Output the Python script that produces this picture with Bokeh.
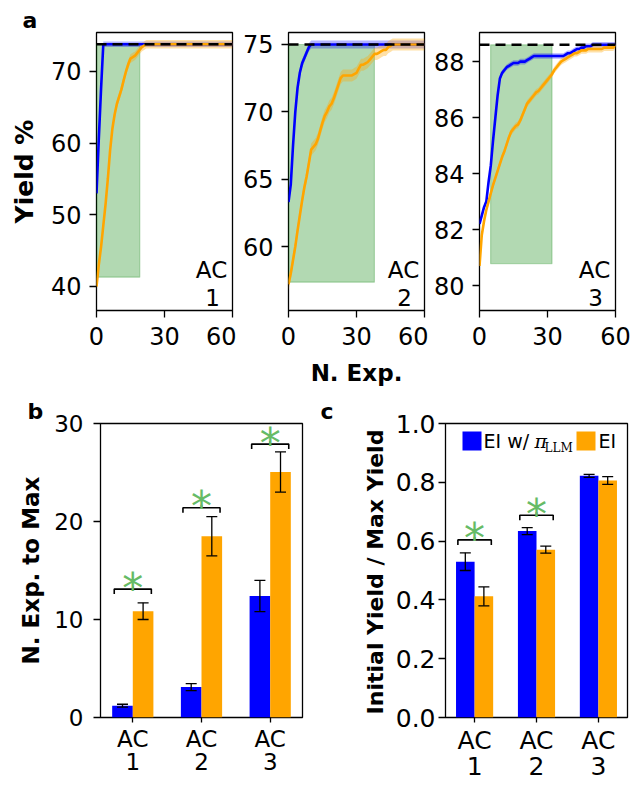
import math
import numpy as np
from bokeh.plotting import figure
from bokeh.layouts import row, column
from bokeh.models import (ColumnDataSource, Whisker, TeeHead, Label, BoxAnnotation,
                          FixedTicker, Span)
from bokeh.core.properties import value
from bokeh.embed import file_html
from bokeh.resources import INLINE

# ------------------------------------------------------------------ data
n_exp = list(range(61))

ac1_llm = [53.0, 60.5, 67.5, 73.8, 73.8, 73.8, 73.8, 73.8, 73.8, 73.8,
           73.8, 73.8, 73.8, 73.8, 73.8, 73.8, 73.8, 73.8, 73.8, 73.8,
           73.8, 73.8, 73.8, 73.8, 73.8, 73.8, 73.8, 73.8, 73.8, 73.8,
           73.8, 73.8, 73.8, 73.8, 73.8, 73.8, 73.8, 73.8, 73.8, 73.8,
           73.8, 73.8, 73.8, 73.8, 73.8, 73.8, 73.8, 73.8, 73.8, 73.8,
           73.8, 73.8, 73.8, 73.8, 73.8, 73.8, 73.8, 73.8, 73.8, 73.8, 73.8]
ac1_ei = [40.0, 43.0, 45.5, 48.5, 51.5, 55.0, 59.0, 62.0, 64.0, 65.5,
          66.5, 67.5, 68.8, 70.0, 71.0, 71.8, 72.0, 72.2, 72.6, 73.0,
          73.4, 73.6, 73.8, 73.8, 73.8, 73.8, 73.8, 73.8, 73.8, 73.8,
          73.8, 73.8, 73.8, 73.8, 73.8, 73.8, 73.8, 73.8, 73.8, 73.8,
          73.8, 73.8, 73.8, 73.8, 73.8, 73.8, 73.8, 73.8, 73.8, 73.8,
          73.8, 73.8, 73.8, 73.8, 73.8, 73.8, 73.8, 73.8, 73.8, 73.8, 73.8]

ac2_llm = [63.3, 64.6, 67.5, 70.0, 71.8, 72.9, 73.6, 74.0, 74.4, 74.8,
           75.0, 75.0, 75.0, 75.0, 75.0, 75.0, 75.0, 75.0, 75.0, 75.0,
           75.0, 75.0, 75.0, 75.0, 75.0, 75.0, 75.0, 75.0, 75.0, 75.0,
           75.0, 75.0, 75.0, 75.0, 75.0, 75.0, 75.0, 75.0, 75.0, 75.0,
           75.0, 75.0, 75.0, 75.0, 75.0, 75.0, 75.0, 75.0, 75.0, 75.0,
           75.0, 75.0, 75.0, 75.0, 75.0, 75.0, 75.0, 75.0, 75.0, 75.0, 75.0]
ac2_ei = [57.2, 58.0, 59.0, 60.0, 61.2, 62.3, 63.4, 64.4, 65.2, 66.2,
          67.2, 67.4, 67.6, 68.0, 68.6, 69.2, 69.7, 70.0, 70.4, 70.6,
          71.0, 71.5, 72.0, 72.5, 72.7, 72.7, 72.7, 72.7, 72.7, 72.8,
          72.9, 73.2, 73.5, 73.5, 73.6, 73.7, 73.9, 74.1, 74.3, 74.3,
          74.4, 74.5, 74.6, 74.6, 74.8, 74.9, 75.0, 75.0, 75.0, 75.0,
          75.0, 75.0, 75.0, 75.0, 75.0, 75.0, 75.0, 75.0, 75.0, 75.0, 75.0]

ac3_llm = [82.2, 82.5, 82.8, 83.0, 83.7, 84.3, 85.2, 86.0, 86.8, 87.4,
           87.6, 87.7, 87.8, 87.85, 87.9, 87.95, 87.95, 87.95, 88.0, 88.0,
           88.0, 88.05, 88.1, 88.15, 88.2, 88.2, 88.2, 88.2, 88.2, 88.2,
           88.2, 88.2, 88.2, 88.2, 88.2, 88.2, 88.2, 88.2, 88.25, 88.3,
           88.3, 88.35, 88.4, 88.45, 88.45, 88.5, 88.5, 88.55, 88.55, 88.55,
           88.6, 88.6, 88.6, 88.6, 88.6, 88.6, 88.6, 88.6, 88.6, 88.6, 88.6]
ac3_ei = [80.7, 81.8, 82.3, 82.7, 83.0, 83.3, 83.6, 83.85, 84.1, 84.35,
          84.6, 84.8, 85.05, 85.3, 85.5, 85.6, 85.7, 85.75, 85.9, 86.1,
          86.3, 86.5, 86.6, 86.7, 86.8, 86.9, 86.95, 87.05, 87.15, 87.25,
          87.35, 87.45, 87.55, 87.7, 87.8, 87.9, 88.0, 88.05, 88.1, 88.15,
          88.2, 88.25, 88.3, 88.3, 88.35, 88.4, 88.4, 88.4, 88.45, 88.45,
          88.45, 88.45, 88.45, 88.45, 88.45, 88.5, 88.5, 88.5, 88.5, 88.5, 88.6]

curves_llm = [ac1_llm, ac2_llm, ac3_llm]
curves_ei = [ac1_ei, ac2_ei, ac3_ei]
band_llm = [0.4, 0.3, 0.1]          # half-width of shaded spread
band_ei = [0.6, 0.45, 0.12]
max_yield = [73.8, 75.0, 88.6]
region_left = [0.0, 0.0, 4.9]
region_right = [19.1, 37.9, 32.0]
region_bottom = [41.3, 57.35, 80.78]
region_top = [73.8, 75.0, 88.6]
a_ylims = [(36.65, 75.44), (55.25, 75.89), (79.11, 89.04)]
a_yticks = [[40, 50, 60, 70], [60, 65, 70, 75], [80, 82, 84, 86, 88]]
x_ticks_a = [0, 30, 60]
ac_digits = ["1", "2", "3"]

ac_pos = [0, 1, 2]
ac_labels = ["AC\n1", "AC\n2", "AC\n3"]
nexp_llm = [1.2, 3.1, 12.4]
nexp_llm_err = [0.15, 0.35, 1.6]
nexp_ei = [10.85, 18.5, 25.05]
nexp_ei_err = [0.85, 2.0, 2.05]
nexp_sig_pos = [0, 1, 2]
nexp_sig_y = [13.1, 21.4, 27.9]

init_llm = [0.53, 0.634, 0.822]
init_llm_err = [0.03, 0.012, 0.005]
init_ei = [0.412, 0.571, 0.806]
init_ei_err = [0.032, 0.012, 0.013]
init_sig_pos = [0, 1]
init_sig_y = [0.604, 0.688]

b_yticks = [0, 10, 20, 30]
c_yticks = [0.0, 0.2, 0.4, 0.6, 0.8, 1.0]
c_yticklabels = ["0.0", "0.2", "0.4", "0.6", "0.8", "1.0"]

# ------------------------------------------------------------------ style
FONT = "DejaVu Sans"
BLUE = "#0000ff"
ORANGE = "#ffa500"
GREEN = "#008000"
STAR = "#66bb66"
BASE_SHIFT = 0.35   # empirical em fraction between requested and drawn baseline


def mapper(frame, xr, yr):
    fx0, fx1, fy0, fy1 = frame

    def fx(px):
        return xr[0] + (px - fx0) / (fx1 - fx0) * (xr[1] - xr[0])

    def fy(py):
        return yr[1] - (py - fy0) / (fy1 - fy0) * (yr[1] - yr[0])
    return fx, fy


def style(p, tick_fs):
    p.outline_line_color = "black"
    p.outline_line_width = 1.3
    p.outline_line_alpha = 1.0
    p.xgrid.visible = False
    p.ygrid.visible = False
    p.background_fill_color = "white"
    p.border_fill_color = "white"
    for ax in (p.xaxis[0], p.yaxis[0]):
        ax.axis_line_color = None
        ax.major_tick_line_color = "black"
        ax.major_tick_line_width = 1.3
        ax.major_tick_out = 7
        ax.major_tick_in = 0
        ax.minor_tick_line_color = None
        ax.major_label_text_font = FONT
        ax.major_label_text_font_size = tick_fs
        ax.major_label_text_color = "black"
        ax.axis_label_text_font = FONT
        ax.axis_label_text_font_style = "bold"
        ax.axis_label_text_color = "black"


def letter(p, text, offset):
    p.title.text = text
    p.title.align = "left"
    p.title.offset = offset
    p.title.standoff = 0
    p.title.text_font = FONT
    p.title.text_font_size = "22px"
    p.title.text_font_style = "bold"
    p.title.text_color = "black"


def add_label(p, fx, fy, px, py, text, fs, align="center", italic=False, font=FONT):
    # (px, py): wanted page position of the text baseline
    p.add_layout(Label(x=fx(px), y=fy(py - BASE_SHIFT * fs), text=text, text_font=font,
                       text_font_size=f"{fs}px", text_align=align,
                       text_baseline="alphabetic",
                       text_font_style="italic" if italic else "normal",
                       text_color="black"))


def spacer(x0, width, height, fy0, fy1, top):
    """Blank strip that carries texts left of a frame; its frame lines up with the row's
    frames (fy0..fy1), and data units equal page pixels."""
    s = figure(width=width, height=height, x_range=(x0, x0 + width),
               y_range=(fy1, fy0), x_axis_type=None, y_axis_type=None,
               min_border_left=0, min_border_right=0, min_border_top=top,
               min_border_bottom=0, output_backend="svg", toolbar_location=None)
    s.outline_line_color = None
    s.background_fill_color = "white"
    s.border_fill_color = "white"
    return s


def vlabel(s, x_base, y_center, text, fs):
    # rotated bold label; x_base = wanted page x of its baseline
    s.add_layout(Label(x=x_base - BASE_SHIFT * fs, y=y_center, text=text,
                       angle=math.pi / 2, text_font=FONT, text_font_size=f"{fs}px",
                       text_font_style="bold", text_align="center",
                       text_baseline="alphabetic", text_color="black"))


# ------------------------------------------------------------------ top row (a)
TOP_Y0, TOP_Y1 = 32, 310
TOP_H = 395
SP_A = 44
a_frames_x = [(96, 232), (288, 424), (479, 615)]
a_widths = [236 - SP_A, 192, 204]
a_left = [96 - SP_A, 52, 51]
a_right = [4, 4, 17]

sa = spacer(0, SP_A, TOP_H, TOP_Y0, TOP_Y1, TOP_Y0)
letter(sa, "a", 22)
vlabel(sa, 33, (TOP_Y0 + TOP_Y1) / 2, "Yield %", 25)

top_figs = []
for i in range(3):
    p = figure(width=a_widths[i], height=TOP_H, x_range=(0, 60), y_range=a_ylims[i],
               min_border_left=a_left[i], min_border_right=a_right[i],
               min_border_top=TOP_Y0, min_border_bottom=TOP_H - TOP_Y1,
               output_backend="svg", toolbar_location=None)
    style(p, "24px")
    p.xaxis.ticker = FixedTicker(ticks=x_ticks_a)
    p.yaxis.ticker = FixedTicker(ticks=a_yticks[i])
    p.xaxis.major_label_standoff = 9
    p.yaxis.major_label_standoff = 8

    p.quad(left=[region_left[i]], right=[region_right[i]], bottom=[region_bottom[i]],
           top=[region_top[i]], fill_color=GREEN, fill_alpha=0.3,
           line_color=GREEN, line_alpha=0.25, line_width=1.2)

    yl = np.array(curves_llm[i])
    ye = np.array(curves_ei[i])
    p.varea(x=n_exp, y1=yl - band_llm[i], y2=yl + band_llm[i], fill_color=BLUE, fill_alpha=0.3)
    p.varea(x=n_exp, y1=ye - band_ei[i], y2=ye + band_ei[i], fill_color=ORANGE, fill_alpha=0.35)
    p.line(n_exp, curves_llm[i], line_color=BLUE, line_width=2.6)
    p.line(n_exp, curves_ei[i], line_color=ORANGE, line_width=2.6)
    p.add_layout(Span(location=max_yield[i], dimension="width", line_color="black",
                      line_width=2.4, line_dash="10 6"))

    fx, fy = mapper((a_frames_x[i][0], a_frames_x[i][1], TOP_Y0, TOP_Y1), (0, 60), a_ylims[i])
    xr = a_frames_x[i][1]
    add_label(p, fx, fy, xr - 21, 278, "AC", 23)
    add_label(p, fx, fy, xr - 20, 305, ac_digits[i], 23)
    if i == 1:
        p.xaxis.axis_label = "N. Exp."
        p.xaxis.axis_label_text_font_size = "23px"
        p.xaxis.axis_label_standoff = 12
    top_figs.append(p)

# ------------------------------------------------------------------ bottom row (b, c)
BOT_Y0, BOT_Y1 = 423, 718
BOT_H = 389
BOT_TOP = BOT_Y0 - TOP_H
XR = (-0.47, 2.47)
BW = 0.3


def bar_panel(width, left, right, frame_x, yr, yticks, llm, llm_err, ei, ei_err,
              sig_pos, sig_y, tick_fs):
    p = figure(width=width, height=BOT_H, x_range=XR, y_range=yr,
               min_border_left=left, min_border_right=right, min_border_top=BOT_TOP,
               min_border_bottom=BOT_H - BOT_TOP - (BOT_Y1 - BOT_Y0),
               output_backend="svg", toolbar_location=None)
    style(p, tick_fs)
    p.xaxis.ticker = FixedTicker(ticks=ac_pos)
    p.xaxis.major_label_overrides = {k: lab for k, lab in zip(ac_pos, ac_labels)}
    p.xaxis.major_tick_out = 5
    p.xaxis.major_label_standoff = 3
    p.xaxis.major_label_text_line_height = 0.92
    p.yaxis.ticker = FixedTicker(ticks=yticks)

    pos = np.array(ac_pos, dtype=float)
    s_l = ColumnDataSource(dict(x=pos - BW / 2, top=llm,
                                up=np.array(llm) + np.array(llm_err),
                                lo=np.array(llm) - np.array(llm_err)))
    s_e = ColumnDataSource(dict(x=pos + BW / 2, top=ei,
                                up=np.array(ei) + np.array(ei_err),
                                lo=np.array(ei) - np.array(ei_err)))
    p.vbar(x="x", top="top", width=BW, source=s_l, fill_color=BLUE, line_color=None)
    p.vbar(x="x", top="top", width=BW, source=s_e, fill_color=ORANGE, line_color=None)
    for s in (s_l, s_e):
        p.add_layout(Whisker(source=s, base="x", upper="up", lower="lo",
                             line_color="black", line_width=1.3, level="overlay",
                             upper_head=TeeHead(size=11, line_color="black", line_width=1.3),
                             lower_head=TeeHead(size=11, line_color="black", line_width=1.3)))

    fx, fy = mapper((frame_x[0], frame_x[1], BOT_Y0, BOT_Y1), XR, yr)
    upp = (yr[1] - yr[0]) / (BOT_Y1 - BOT_Y0)      # data units per pixel
    h = 0.27
    xs, ys = [], []
    for c, y in zip(sig_pos, sig_y):
        d = 5 * upp
        xs.append([c - h, c - h, c + h, c + h])
        ys.append([y - d, y, y, y - d])
        xs.append([c, c])
        ys.append([y, y + 3 * upp])
    p.multi_line(xs, ys, line_color="black", line_width=1.6)
    st = ColumnDataSource(dict(x=list(sig_pos), y=[y + 1 * upp for y in sig_y],
                               t=["*"] * len(sig_pos)))
    p.text(x="x", y="y", text="t", source=st, text_font=value(FONT), text_font_size="42px",
           text_align="center", text_baseline="alphabetic", text_color=STAR)
    return p, fx, fy


pb, fxb, fyb = bar_panel(305, 100, 3, (100, 302), (0, 30), b_yticks, nexp_llm, nexp_llm_err,
                         nexp_ei, nexp_ei_err, nexp_sig_pos, nexp_sig_y, "23px")
pb.yaxis.axis_label = "N. Exp. to Max"
pb.yaxis.axis_label_text_font_size = "23px"
pb.yaxis.major_label_standoff = 10
pb.yaxis.axis_label_standoff = 7
letter(pb, "b", 27 - 100)

SP_C0, SP_C = 305, 87
sc = spacer(SP_C0, SP_C, BOT_H, BOT_Y0, BOT_Y1, BOT_TOP)
letter(sc, "c", 320 - SP_C0)
vlabel(sc, 383, 572, "Initial Yield / Max Yield", 22)

pc, fxc, fyc = bar_panel(327 - SP_C, 140 - SP_C, 5, (445, 627), (0, 1.0), c_yticks,
                         init_llm, init_llm_err, init_ei, init_ei_err,
                         init_sig_pos, init_sig_y, "25px")
pc.yaxis.major_label_overrides = {k: lab for k, lab in zip(c_yticks, c_yticklabels)}
pc.yaxis.major_label_standoff = 3

# legend (manual, to allow the subscript)
L0, T0 = 445, BOT_Y0
pc.add_layout(BoxAnnotation(left=fxc(L0 + 17), right=fxc(L0 + 36), top=fyc(T0 + 8),
                            bottom=fyc(T0 + 27), fill_color=BLUE, fill_alpha=1.0,
                            line_color=None))
pc.add_layout(BoxAnnotation(left=fxc(L0 + 131), right=fxc(L0 + 150), top=fyc(T0 + 8),
                            bottom=fyc(T0 + 27), fill_color=ORANGE, fill_alpha=1.0,
                            line_color=None))
add_label(pc, fxc, fyc, L0 + 38, T0 + 24, "EI w/", 19, align="left")
add_label(pc, fxc, fyc, L0 + 89, T0 + 24, "π", 19, align="left", italic=True,
          font="DejaVu Serif")
add_label(pc, fxc, fyc, L0 + 99, T0 + 29, "LLM", 12, align="left", font="DejaVu Serif")
add_label(pc, fxc, fyc, L0 + 153, T0 + 24, "EI", 19, align="left")

layout = column(row(sa, *top_figs, spacing=0), row(pb, sc, pc, spacing=0), spacing=0)
open("out.html", "w").write(file_html(layout, INLINE))
